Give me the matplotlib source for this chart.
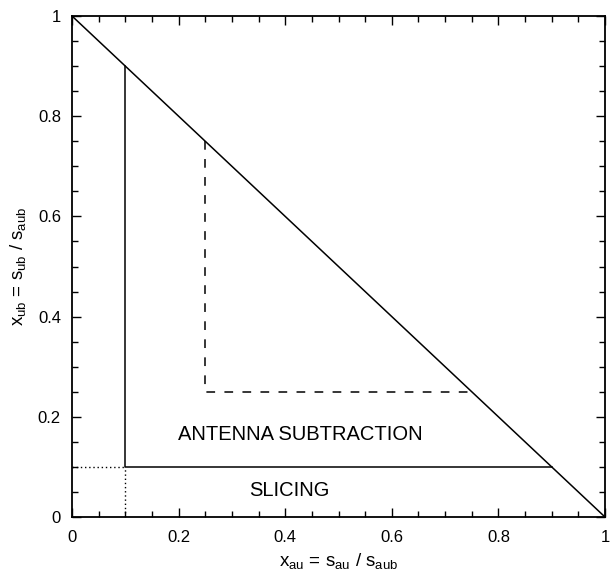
import matplotlib
matplotlib.use("Agg")
import matplotlib.pyplot as plt
from matplotlib.ticker import MultipleLocator

plt.rcParams['font.family'] = ['Liberation Sans', 'DejaVu Sans']

diag_x = [0, 1]
diag_y = [1, 0]
solid_x = [0.1, 0.1, 0.9]
solid_y = [0.9, 0.1, 0.1]
dashed_x = [0.25, 0.25, 0.75]
dashed_y = [0.75, 0.25, 0.25]
dot_h_x = [0, 0.1]
dot_h_y = [0.1, 0.1]
dot_v_x = [0.1, 0.1]
dot_v_y = [0, 0.1]
labels = ["ANTENNA SUBTRACTION", "SLICING"]
label_pos = [(0.428, 0.164), (0.407, 0.052)]
ticks = [0, 0.2, 0.4, 0.6, 0.8, 1]
tick_labels = ["0", "0.2", "0.4", "0.6", "0.8", "1"]

fig = plt.figure(figsize=(6.1, 5.74), dpi=100)
ax = fig.add_axes([72/610, 1 - 517/574, (605-72)/610, (517-16)/574])

ax.plot(diag_x, diag_y, color='black', lw=1.1)
ax.plot(solid_x, solid_y, color='black', lw=1.1)
ax.plot(dashed_x, dashed_y, color='black', lw=1.1, ls=(0, (5.7, 6.1)))
ax.plot(dot_h_x, dot_h_y, color='black', lw=1.0, ls=(0, (1, 2)))
ax.plot(dot_v_x, dot_v_y, color='black', lw=1.0, ls=(0, (1, 2)))

for t, (x, y) in zip(labels, label_pos):
    ax.text(x, y, t, ha='center', va='center', fontsize=14.5)

ax.set_xlim(0, 1)
ax.set_ylim(0, 1)
ax.set_xticks(ticks)
ax.set_xticklabels(tick_labels)
ax.set_yticks(ticks)
ax.set_yticklabels(tick_labels)
ax.xaxis.set_minor_locator(MultipleLocator(0.05))
ax.yaxis.set_minor_locator(MultipleLocator(0.05))
ax.tick_params(which='both', direction='in', top=True, right=True, labelsize=12, width=1)
ax.tick_params(which='major', length=6.5)
ax.tick_params(which='minor', length=4)
ax.tick_params(axis='x', which='major', pad=9)
ax.tick_params(axis='y', which='major', pad=8)
for s in ax.spines.values():
    s.set_linewidth(1.3)

ax.set_xlabel(r"x$_{\mathregular{au}}$ = s$_{\mathregular{au}}$ / s$_{\mathregular{aub}}$", fontsize=13.5, labelpad=5)
ax.set_ylabel(r"x$_{\mathregular{ub}}$ = s$_{\mathregular{ub}}$ / s$_{\mathregular{aub}}$", fontsize=13.5, labelpad=6)

fig.savefig("out.png", dpi=100)
